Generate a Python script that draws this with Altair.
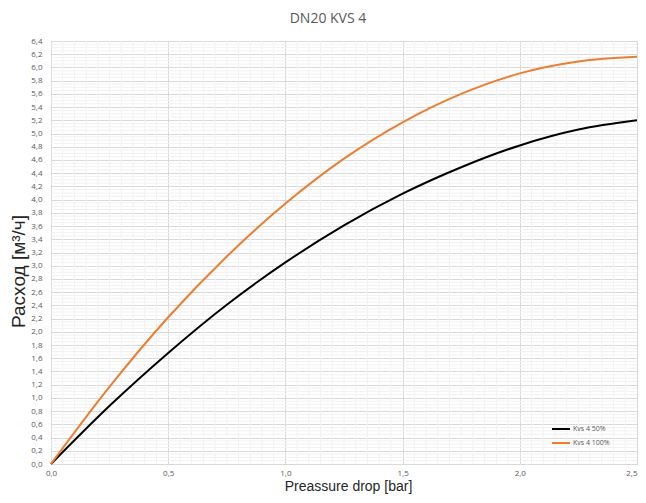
import altair as alt
import pandas as pd

# Pressure drop [bar]
pressure = [0.0, 0.25, 0.5, 0.75, 1.0, 1.25, 1.5, 1.75, 2.0, 2.25, 2.5]
# Flow [m3/h]
kvs50 = [0.0, 0.88, 1.68, 2.41, 3.05, 3.61, 4.09, 4.49, 4.82, 5.06, 5.20]
kvs100 = [0.0, 1.17, 2.22, 3.14, 3.94, 4.62, 5.17, 5.60, 5.91, 6.09, 6.16]
series_names = ["Kvs 4 50%", "Kvs 4 100%"]
series_colors = ["#000000", "#ED7D31"]

x_major = [0.0, 0.5, 1.0, 1.5, 2.0, 2.5]
y_major = [round(i * 0.2, 1) for i in range(33)]
x_minor = [round(i * 0.05, 2) for i in range(51) if i % 10 != 0]
y_minor = [round(i * 0.05, 2) for i in range(129) if i % 4 != 0]

rows = []
for p, a, b in zip(pressure, kvs50, kvs100):
    rows.append({"p": p, "q": a, "s": series_names[0]})
    rows.append({"p": p, "q": b, "s": series_names[1]})
df = pd.DataFrame(rows)

xscale = alt.Scale(domain=[0, 2.5], nice=False, zero=False)
yscale = alt.Scale(domain=[0, 6.4], nice=False, zero=False)

x_axis = alt.Axis(
    values=x_major,
    labelExpr="replace(format(datum.value, '.1f'), '.', ',')",
    labelAlign={"condition": {"test": "datum.value >= 2.5", "value": "right"}, "value": "center"},
    title="Preassure drop [bar]",
    titleFont="Liberation Sans",
    titleFontSize=14,
    titleFontWeight="normal",
    titleColor="#262626",
    titleBaseline="alphabetic",
    titleY=26,
    titleX=297,
    labelFont="Open Sans",
    labelFontSize=8,
    labelColor="#595959",
    labelPadding=5,
    ticks=False,
    domainColor="#d9d9d9",
    gridColor="#d9d9d9",
    labelFlush=False,
)
y_axis = alt.Axis(
    values=y_major,
    labelExpr="replace(format(datum.value, '.1f'), '.', ',')",
    title="Расход  [м³/ч]",
    titleFont="Liberation Sans",
    titleFontSize=19,
    titleFontWeight="normal",
    titleColor="#262626",
    titleBaseline="alphabetic",
    titleX=-27,
    titleY=230,
    labelFont="Open Sans",
    labelFontSize=8,
    labelColor="#595959",
    labelPadding=9,
    ticks=False,
    domainColor="#d9d9d9",
    gridColor="#d9d9d9",
    labelFlush=False,
)

minor_color = "#f2f2f2"

vminor = alt.Chart(pd.DataFrame({"v": x_minor})).mark_rule(
    color=minor_color, strokeWidth=1
).encode(x=alt.X("v:Q", scale=xscale, axis=x_axis))

hminor = alt.Chart(pd.DataFrame({"v": y_minor})).mark_rule(
    color=minor_color, strokeWidth=1
).encode(y=alt.Y("v:Q", scale=yscale, axis=y_axis))

lines = alt.Chart(df).mark_line(strokeWidth=2, interpolate="monotone").encode(
    x=alt.X("p:Q", scale=xscale, axis=x_axis),
    y=alt.Y("q:Q", scale=yscale, axis=y_axis),
    color=alt.Color(
        "s:N",
        sort=series_names,
        scale=alt.Scale(domain=series_names, range=series_colors),
        legend=alt.Legend(
            title=None,
            orient="none",
            legendX=500,
            legendY=378,
            symbolType="stroke",
            symbolSize=324,
            symbolStrokeWidth=2,
            labelFont="Open Sans",
            labelFontSize=7,
            labelColor="#595959",
            rowPadding=-1,
            labelOffset=2,
        ),
    ),
)

chart = alt.layer(vminor, hminor, lines).properties(
    width=586,
    height=423,
    title=alt.TitleParams(
        "DN20 KVS 4",
        font="Open Sans",
        fontSize=14,
        fontWeight="normal",
        color="#595959",
        dx=-16,
        offset=11,
    ),
    autosize=alt.AutoSizeParams(type="none"),
    padding={"left": 43, "top": 33, "right": 1, "bottom": 31},
    background="white",
).configure_view(stroke=None)

chart.save("out.html", embed_options={"renderer": "svg", "actions": False})
